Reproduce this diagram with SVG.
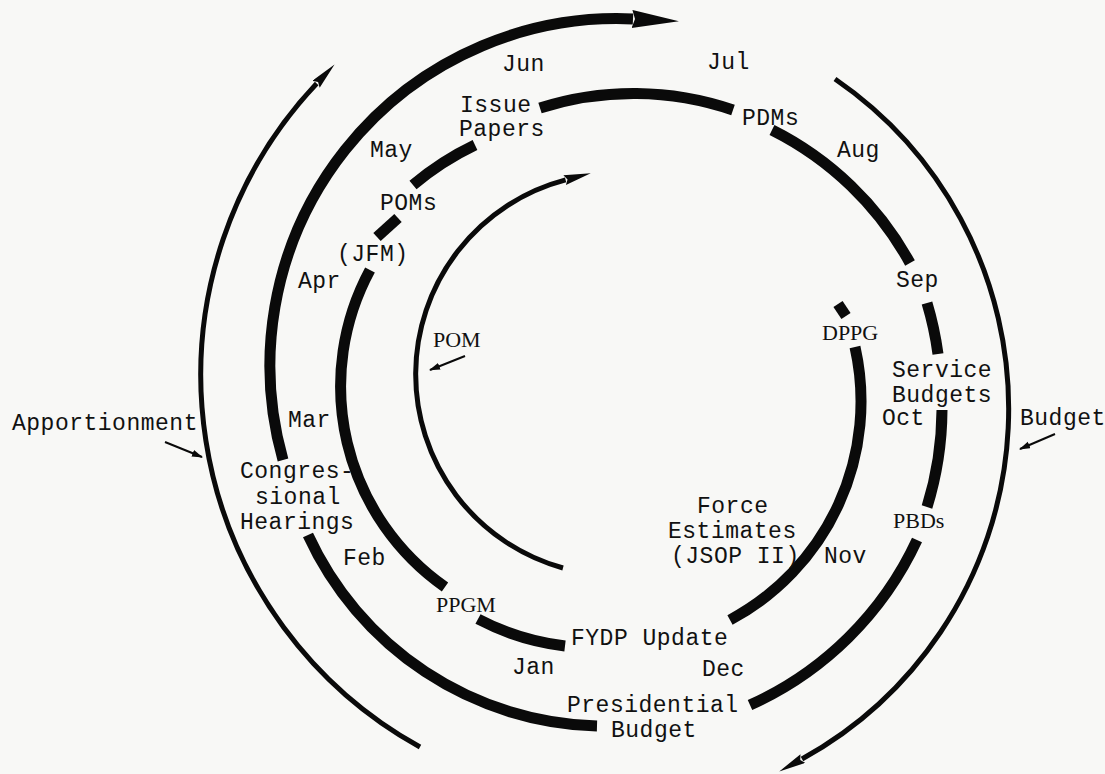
<svg xmlns="http://www.w3.org/2000/svg" width="1105" height="774" viewBox="0 0 1105 774">
<defs>
<style>
.t{font-family:"Liberation Mono","DejaVu Sans Mono",monospace;font-size:23px;letter-spacing:0.5px;fill:#111}
.s{font-family:"Liberation Serif","DejaVu Serif",serif;font-size:22px;fill:#111}
.thick{fill:none;stroke:#0a0a0a;stroke-width:11}
.thin{fill:none;stroke:#0a0a0a;stroke-width:5}
.lbl{fill:none;stroke:#0a0a0a;stroke-width:2}
</style>
<marker id="bigHead" markerUnits="userSpaceOnUse" markerWidth="50" markerHeight="20" refX="1" refY="9" orient="auto"><path d="M0,0 L47,9 L0,18 L3,9 Z" fill="#0a0a0a"/></marker>
<marker id="thinHead" markerUnits="userSpaceOnUse" markerWidth="30" markerHeight="12" refX="1" refY="5" orient="auto"><path d="M0,0 L27,5 L0,10 L3,5 Z" fill="#0a0a0a"/></marker>
<marker id="smallHead" markerUnits="userSpaceOnUse" markerWidth="12" markerHeight="8" refX="10" refY="3.5" orient="auto"><path d="M0,0 L11,3.5 L0,7 Z" fill="#0a0a0a"/></marker>
</defs>
<rect width="1105" height="774" fill="#f8f8f6"/>
<g id="connectors">
<path id="apportionment-arc" class="thin" d="M420,747 A425,425 0 0 1 316.7,83.5" marker-end="url(#thinHead)"/>
<path id="budget-arc" class="thin" stroke-width="5.5" d="M835,79 A400,400 0 0 1 802,759" marker-end="url(#thinHead)"/>
<path id="pom-arc" class="thin" stroke-width="4.5" d="M563,568 A201,201 0 0 1 565.6,179.9" marker-end="url(#thinHead)"/>
<path id="b1" class="thick" d="M597,726 A328,328 0 0 1 308,535"/>
<path id="b2" class="thick" d="M283,460 A347,347 0 0 1 633,19" marker-end="url(#bigHead)"/>
<path id="c1" class="thick" d="M445,587 A245,245 0 0 1 370,270"/>
<path id="c2" class="thick" d="M377,237 L398,218"/>
<path id="c3" class="thick" d="M413,185 A290,290 0 0 1 475,145"/>
<path id="c4" class="thick" d="M540,108 A308,308 0 0 1 733,110"/>
<path id="c5" class="thick" d="M772,130 A322,322 0 0 1 910,263"/>
<path id="c6" class="thick" d="M927,303 A330,330 0 0 1 938,354"/>
<path id="c7" class="thick" d="M942,410 A333,333 0 0 1 927,507"/>
<path id="c8" class="thick" d="M917,540 A336,336 0 0 1 750,705"/>
<path id="d1" class="thick" stroke-width="10" d="M838,304 L846,316"/>
<path id="d2" class="thick" stroke-width="12" d="M855,347 A248,248 0 0 1 730,620"/>
<path id="d3" class="thick" stroke-width="10" d="M565,646 A250,250 0 0 1 478,619"/>
<path id="pom-pointer" class="lbl" d="M465,356 L430,370" marker-end="url(#smallHead)"/>
<path id="apportionment-pointer" class="lbl" d="M165,442 L202,457" marker-end="url(#smallHead)"/>
<path id="budget-pointer" class="lbl" d="M1055,434 L1020,449" marker-end="url(#smallHead)"/>
</g>
<g id="months">
<text class="t" x="502" y="71">Jun</text>
<text class="t" x="707" y="69">Jul</text>
<text class="t" x="837" y="157">Aug</text>
<text class="t" x="896" y="287">Sep</text>
<text class="t" x="882" y="425">Oct</text>
<text class="t" x="824" y="563">Nov</text>
<text class="t" x="702" y="676">Dec</text>
<text class="t" x="512" y="674">Jan</text>
<text class="t" x="343" y="565">Feb</text>
<text class="t" x="288" y="427">Mar</text>
<text class="t" x="298" y="288">Apr</text>
<text class="t" x="370" y="157">May</text>
</g>
<g id="issue-papers"><text class="t" x="460" y="112">Issue</text><text class="t" x="459" y="136">Papers</text></g>
<g id="pdms"><text class="t" x="742" y="125">PDMs</text></g>
<g id="poms"><text class="t" x="380" y="210">POMs</text></g>
<g id="jfm"><text class="t" x="337" y="261">(JFM)</text></g>
<g id="dppg"><text class="s" x="822" y="340">DPPG</text></g>
<g id="pom"><text class="s" x="433" y="347" font-size="20">POM</text></g>
<g id="service-budgets"><text class="t" x="892" y="377">Service</text><text class="t" x="892" y="402">Budgets</text></g>
<g id="budget"><text class="t" x="1020" y="425">Budget</text></g>
<g id="apportionment"><text class="t" x="12" y="430">Apportionment</text></g>
<g id="congressional-hearings"><text class="t" x="240" y="478" font-size="22">Congres-</text><text class="t" x="255" y="504" font-size="22">sional</text><text class="t" x="240" y="529" font-size="22">Hearings</text></g>
<g id="force-estimates"><text class="t" x="697" y="513">Force</text><text class="t" x="668" y="538">Estimates</text><text class="t" x="671" y="563">(JSOP II)</text></g>
<g id="pbds"><text class="s" x="893" y="528" font-size="23">PBDs</text></g>
<g id="ppgm"><text class="s" x="436" y="612" font-size="21">PPGM</text></g>
<g id="fydp-update"><text class="t" x="571" y="645">FYDP Update</text></g>
<g id="presidential-budget"><text class="t" x="567" y="712">Presidential</text><text class="t" x="611" y="737">Budget</text></g>
</svg>
